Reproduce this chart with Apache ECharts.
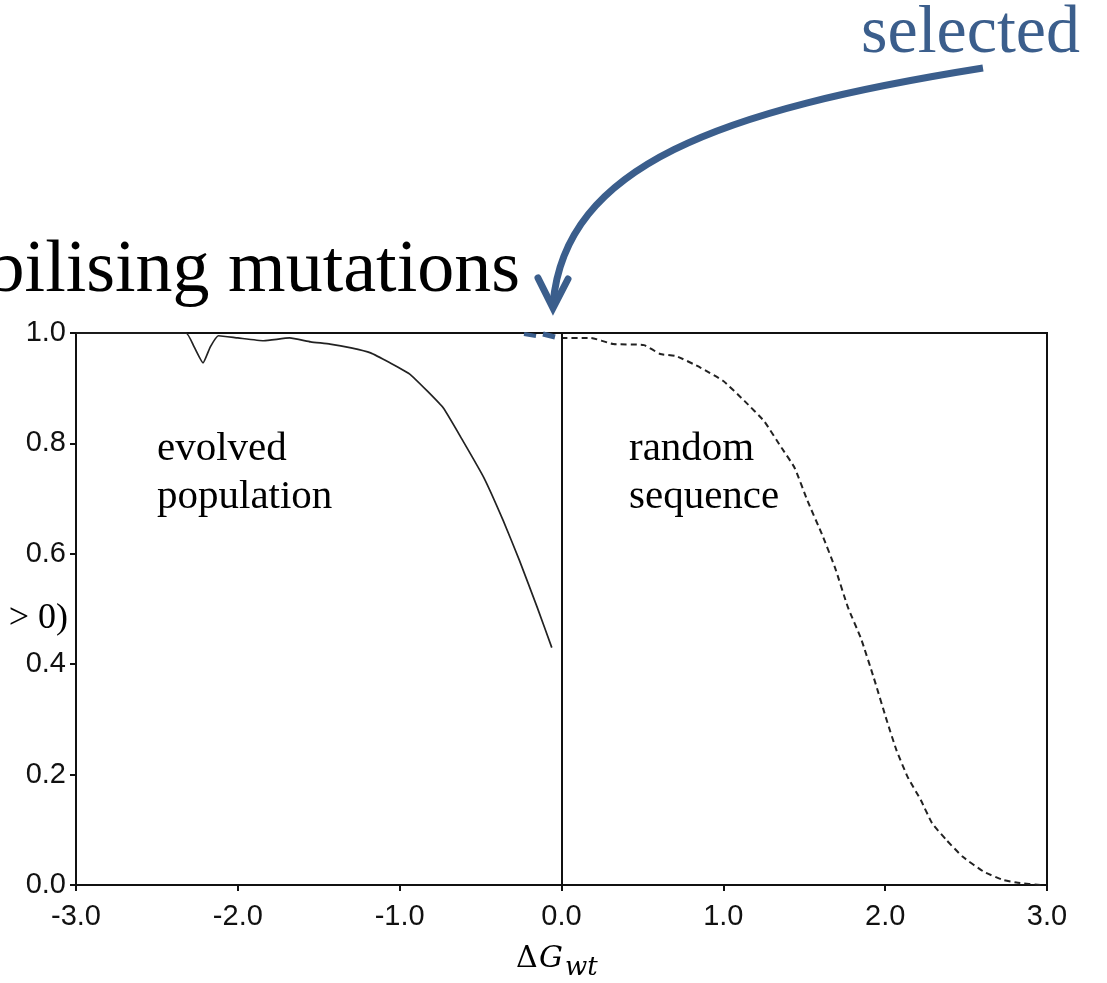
<!DOCTYPE html>
<html>
<head>
<meta charset="utf-8">
<script src="https://cdn.jsdelivr.net/npm/echarts@6/dist/echarts.min.js"></script>
<style>
  html, body { margin: 0; padding: 0; background: #fff; }
  #chart { width: 1107px; height: 983px; }
</style>
</head>
<body>
<div id="chart"></div>
<script>
// evolved population (solid curve)
var evolvedX = [-3.0, -2.6, -2.32, -2.27, -2.215, -2.17, -2.12, -2.0, -1.84, -1.68, -1.55, -1.43, -1.30, -1.18, -1.06, -0.94, -0.83, -0.73, -0.61, -0.48, -0.36, -0.26, -0.15, -0.06];
var evolvedY = [1.0, 1.0, 1.0, 0.975, 0.946, 0.975, 0.995, 0.991, 0.986, 0.991, 0.984, 0.980, 0.973, 0.964, 0.946, 0.926, 0.895, 0.864, 0.805, 0.738, 0.660, 0.588, 0.503, 0.430];

// random sequence (dashed curve)
var randomX = [0.0, 0.18, 0.32, 0.51, 0.61, 0.71, 0.86, 1.00, 1.13, 1.25, 1.36, 1.44, 1.52, 1.61, 1.69, 1.77, 1.85, 1.93, 2.01, 2.07, 2.14, 2.22, 2.29, 2.38, 2.48, 2.61, 2.73, 2.82, 2.96];
var randomY = [0.991, 0.991, 0.980, 0.978, 0.962, 0.958, 0.937, 0.913, 0.877, 0.841, 0.792, 0.756, 0.696, 0.635, 0.575, 0.503, 0.447, 0.375, 0.298, 0.244, 0.195, 0.154, 0.112, 0.081, 0.051, 0.024, 0.009, 0.004, 0.0];

var xTicks = [-3, -2, -1, 0, 1, 2, 3];
var yTicks = [0, 0.2, 0.4, 0.6, 0.8, 1.0];

function pairs(xs, ys) {
  return xs.map(function (x, i) { return [x, ys[i]]; });
}

var blue = '#3b5e8c';
var serif = '"Liberation Serif", "DejaVu Serif", serif';
var sans = '"Liberation Sans", Arial, sans-serif';

var chart = echarts.init(document.getElementById('chart'));
var option = {
  backgroundColor: '#fff',
  animation: false,
  grid: {
    left: 76, right: 60, top: 333, bottom: 98,
    show: true, borderColor: '#111', borderWidth: 2, backgroundColor: 'transparent'
  },
  xAxis: {
    type: 'value', min: -3, max: 3, interval: 1,
    axisLine: { show: true, onZero: false, lineStyle: { color: '#111', width: 2 } },
    axisTick: { show: true, inside: false, length: 6, lineStyle: { color: '#111', width: 2 } },
    splitLine: { show: false },
    axisLabel: {
      margin: 17, fontFamily: sans, fontSize: 29, color: '#111',
      formatter: function (v) { return xTicks.indexOf(v) >= 0 ? v.toFixed(1) : ''; }
    }
  },
  yAxis: {
    type: 'value', min: 0, max: 1, interval: 0.2,
    axisLine: { show: true, onZero: false, lineStyle: { color: '#111', width: 2 } },
    axisTick: { show: true, inside: false, length: 6, lineStyle: { color: '#111', width: 2 } },
    splitLine: { show: false },
    axisLabel: {
      margin: 10, fontFamily: sans, fontSize: 29, color: '#111',
      formatter: function (v) { return v.toFixed(1); }
    }
  },
  series: [
    {
      name: 'evolved population', type: 'line',
      data: pairs(evolvedX, evolvedY),
      showSymbol: false, smooth: 0.15,
      lineStyle: { color: '#222', width: 1.7 },
      markLine: {
        silent: true, symbol: 'none', label: { show: false },
        lineStyle: { color: '#111', width: 2, type: 'solid' },
        data: [{ xAxis: 0 }]
      }
    },
    {
      name: 'random sequence', type: 'line',
      data: pairs(randomX, randomY),
      showSymbol: false, smooth: 0.15,
      lineStyle: { color: '#222', width: 2, type: [6, 4] }
    }
  ],
  graphic: [
    { type: 'text', left: 157, top: 425, style: { text: 'evolved\npopulation', font: '41px ' + serif, fill: '#000', lineHeight: 48 } },
    { type: 'text', left: 629, top: 425, style: { text: 'random\nsequence', font: '41px ' + serif, fill: '#000', lineHeight: 48 } },
    { type: 'text', x: 520, y: 309, style: { text: 'Destabilising mutations', font: '74px ' + serif, fill: '#000', textAlign: 'right', textVerticalAlign: 'bottom' } },
    { type: 'text', x: 1080, y: 68, style: { text: 'selected', font: '68px ' + serif, fill: blue, textAlign: 'right', textVerticalAlign: 'bottom' } },
    { type: 'text', x: 68, y: 637, style: { text: 'P(ΔΔG > 0)', font: '36px ' + serif, fill: '#000', textAlign: 'right', textVerticalAlign: 'bottom' } },
    { type: 'text', x: 516, y: 974, style: { text: 'Δ', font: '30px "DejaVu Serif", serif', fill: '#000', textVerticalAlign: 'bottom' } },
    { type: 'text', x: 539, y: 974, style: { text: 'G', font: 'italic 30px "DejaVu Serif", serif', fill: '#000', textVerticalAlign: 'bottom' } },
    { type: 'text', x: 565, y: 981, style: { text: 'wt', font: 'italic 26px "DejaVu Serif", serif', fill: '#000', textVerticalAlign: 'bottom' } },
    {
      type: 'bezierCurve',
      shape: { x1: 983, y1: 68, cpx1: 720, cpy1: 110, cpx2: 565, cpy2: 165, x2: 553, y2: 304 },
      style: { stroke: blue, lineWidth: 7, fill: null, lineCap: 'butt' }
    },
    {
      type: 'polyline',
      shape: { points: [[538, 278], [553, 308], [568, 279]] },
      style: { stroke: blue, lineWidth: 7, fill: null, lineCap: 'round', lineJoin: 'miter' }
    },
    { type: 'line', shape: { x1: 524, y1: 334, x2: 536, y2: 336 }, style: { stroke: blue, lineWidth: 4 } },
    { type: 'line', shape: { x1: 543, y1: 334, x2: 555, y2: 337 }, style: { stroke: blue, lineWidth: 5 } }
  ]
};
chart.setOption(option);
</script>
</body>
</html>
